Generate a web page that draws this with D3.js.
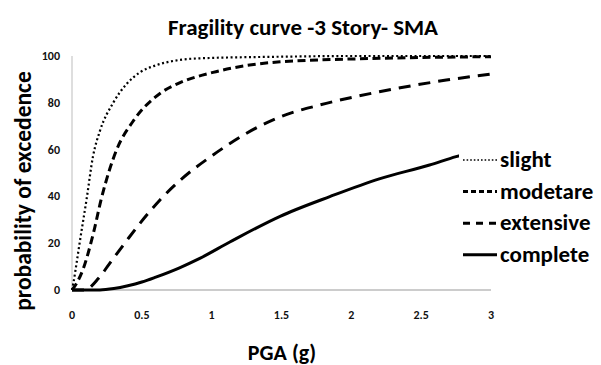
<!DOCTYPE html>
<html>
<head>
<meta charset="utf-8">
<script src="https://cdn.jsdelivr.net/npm/d3@7"></script>
<style>
  body { margin: 0; background: #fff; }
  svg { display: block; font-family: Carlito, Lato, "Open Sans", sans-serif; }
</style>
</head>
<body>
<div id="chart"></div>
<script>
// 数据
const slightPGA = [0, 0.01, 0.034, 0.057, 0.105, 0.15, 0.2, 0.295, 0.39, 0.486, 0.6, 0.77, 0.915, 1.5, 2, 3];
const slightP   = [0, 3, 12, 21, 39, 57, 68, 80, 88, 93, 96, 98.3, 99, 99.7, 100, 100];

const moderatePGA = [0, 0.034, 0.08, 0.152, 0.21, 0.32, 0.436, 0.63, 0.77, 1.01, 1.49, 2.2, 3];
const moderateP   = [0, 3, 9, 24, 39, 60, 72, 84, 88.5, 93, 97.5, 99, 99.7];

const extensivePGA = [0, 0.09, 0.19, 0.27, 0.39, 0.48, 0.63, 0.79, 1.01, 1.25, 1.49, 1.77, 2.2, 2.68, 3];
const extensiveP   = [0, 0, 5, 11.4, 21, 28, 38.5, 47.7, 57.7, 67, 74, 79, 84.7, 89.7, 92.3];

const completePGA = [0, 0.2, 0.3, 0.4, 0.5, 0.6, 0.77, 0.915, 1.13, 1.49, 1.85, 2.2, 2.56, 2.75, 3];
const completeP   = [0, 0, 0.6, 1.8, 3.4, 5.5, 9.5, 13.5, 20.5, 31.5, 40, 47.5, 53.4, 57, 60.5];

const seriesNames = ['slight', 'modetare', 'extensive', 'complete'];
const xTicks = [0, 0.5, 1, 1.5, 2, 2.5, 3];
const yTicks = [0, 20, 40, 60, 80, 100];

const width = 601, height = 365;
const margin = { top: 56, right: 110, bottom: 75, left: 72 };

const series = [
  { name: seriesNames[0], xs: slightPGA, ys: slightP, dash: '2,2.6', w: 2.2 },
  { name: seriesNames[1], xs: moderatePGA, ys: moderateP, dash: '8,4.5', w: 3 },
  { name: seriesNames[2], xs: extensivePGA, ys: extensiveP, dash: '12,8', w: 3 },
  { name: seriesNames[3], xs: completePGA, ys: completeP, dash: null, w: 3 }
];

const svg = d3.select('#chart').append('svg')
  .attr('width', width)
  .attr('height', height);

const x = d3.scaleLinear().domain([0, 3]).range([margin.left, width - margin.right]);
const y = d3.scaleLinear().domain([0, 100]).range([height - margin.bottom, margin.top]);

// 坐标轴线
svg.append('line')
  .attr('x1', x(0)).attr('x2', x(0))
  .attr('y1', y(100)).attr('y2', y(0))
  .attr('stroke', '#c8c8c8').attr('stroke-width', 1.2);
svg.append('line')
  .attr('x1', x(0)).attr('x2', x(3))
  .attr('y1', y(0)).attr('y2', y(0))
  .attr('stroke', '#9a9a9a').attr('stroke-width', 1.2);

// 刻度标签
svg.append('g').selectAll('text')
  .data(yTicks).enter().append('text')
  .attr('x', x(0) - 12)
  .attr('y', d => y(d) + 4)
  .attr('text-anchor', 'end')
  .style('font-size', '12px')
  .style('font-weight', 'bold')
  .style('fill', '#111')
  .text(d => d);

svg.append('g').selectAll('text')
  .data(xTicks).enter().append('text')
  .attr('x', d => x(d))
  .attr('y', 319)
  .attr('text-anchor', 'middle')
  .style('font-size', '12px')
  .style('font-weight', 'bold')
  .style('fill', '#111')
  .text(d => d);

// 曲线
const line = d3.line()
  .x(d => x(d[0]))
  .y(d => y(d[1]))
  .curve(d3.curveMonotoneX);

svg.append('g').selectAll('path')
  .data(series).enter().append('path')
  .attr('d', s => line(s.xs.map((v, i) => [v, s.ys[i]])))
  .attr('fill', 'none')
  .attr('stroke', '#000')
  .attr('stroke-width', s => s.w)
  .attr('stroke-dasharray', s => s.dash);

// 图例（白底覆盖曲线）
const legend = svg.append('g').attr('transform', 'translate(459,144)');
legend.append('rect')
  .attr('width', 142).attr('height', 128)
  .attr('fill', '#fff');

const items = legend.selectAll('.legend-item')
  .data(series).enter().append('g')
  .attr('class', 'legend-item')
  .attr('transform', (d, i) => `translate(0, ${16 + i * 31.6})`);

items.append('line')
  .attr('x1', 4).attr('x2', 38)
  .attr('stroke', '#000')
  .attr('stroke-width', (d, i) => i === 0 ? 1.6 : 3)
  .attr('stroke-dasharray', (d, i) => ['1.6,2', '5,3', '7,6', null][i]);

items.append('text')
  .attr('x', 41)
  .attr('y', 7)
  .style('font-size', '23px')
  .style('font-weight', 'bold')
  .style('fill', '#000')
  .text(d => d.name);

// 标题
svg.append('text')
  .attr('x', 303)
  .attr('y', 35)
  .attr('text-anchor', 'middle')
  .style('font-size', '23px')
  .style('font-weight', 'bold')
  .style('fill', '#000')
  .text('Fragility curve -3 Story- SMA');

// 轴标题
svg.append('text')
  .attr('x', 282)
  .attr('y', 360)
  .attr('text-anchor', 'middle')
  .style('font-size', '22px')
  .style('font-weight', 'bold')
  .style('fill', '#000')
  .text('PGA (g)');

svg.append('text')
  .attr('transform', 'translate(31,191) rotate(-90)')
  .attr('text-anchor', 'middle')
  .style('font-size', '23.5px')
  .style('font-weight', 'bold')
  .style('fill', '#000')
  .text('probability of excedence');
</script>
</body>
</html>
